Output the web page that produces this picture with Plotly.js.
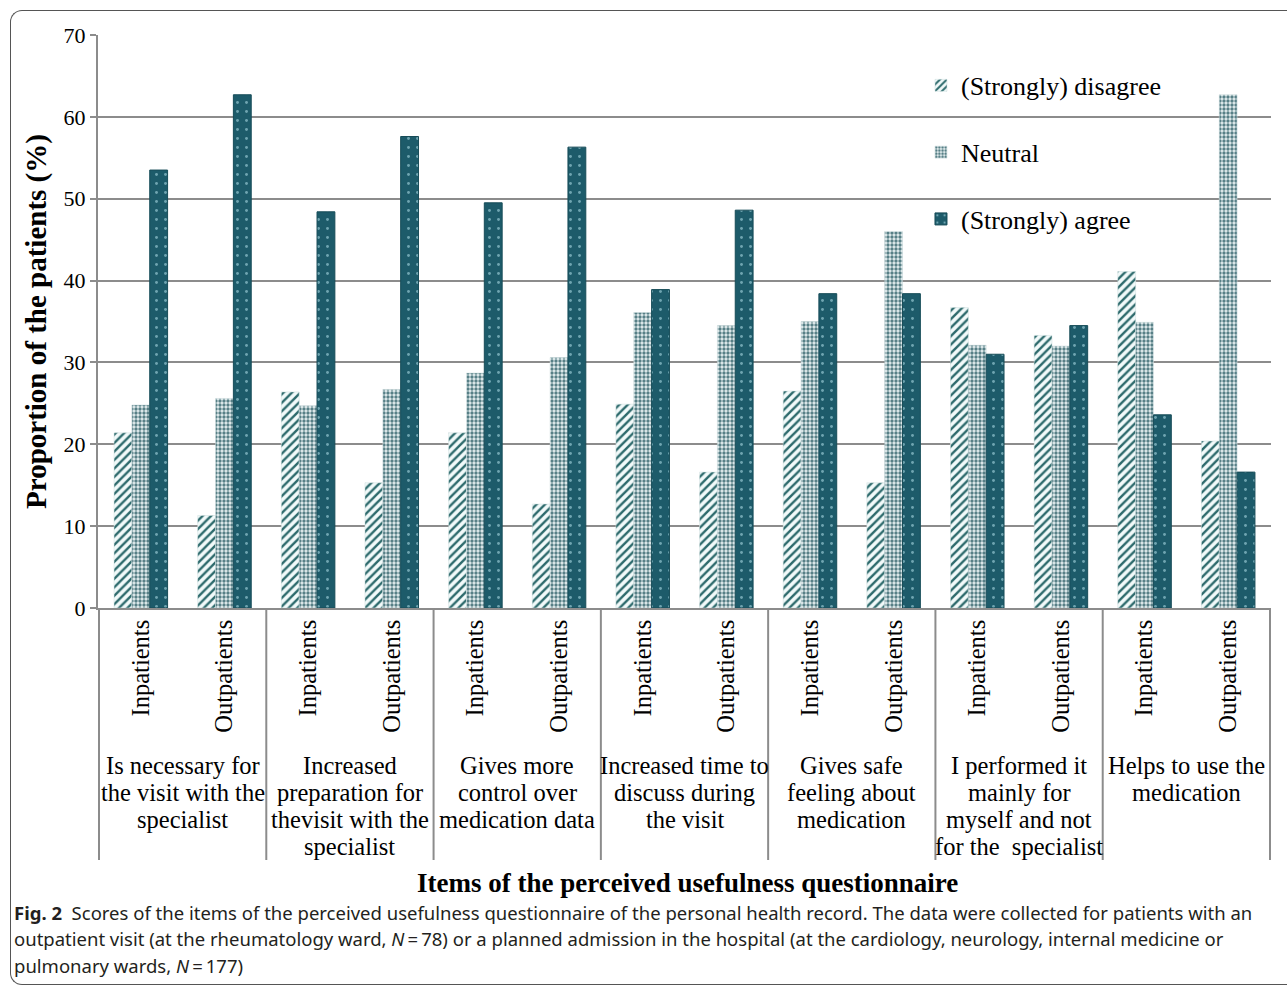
<!DOCTYPE html>
<html>
<head>
<meta charset="utf-8">
<script src="https://cdn.plot.ly/plotly-3.0.1.min.js"></script>
<style>
  html, body { margin: 0; padding: 0; background: #fff; overflow: hidden; }
  #chart { width: 1287px; height: 989px; }
  #frame { position: absolute; left: 10px; top: 10px; width: 1320px; height: 975px;
           border: 1px solid #555; border-right: none; border-radius: 12px 0 0 12px;
           pointer-events: none; box-sizing: border-box; }
</style>
</head>
<body>
<div id="chart"></div>
<div id="frame"></div>
<script>
// Questionnaire items (outer category), lines separated by <br>
const items = [
  "Is necessary for<br>the visit with the<br>specialist",
  "Increased<br>preparation for<br>thevisit with the<br>specialist",
  "Gives more<br>control over<br>medication data",
  "Increased time to<br>discuss during<br>the visit",
  "Gives safe<br>feeling about<br>medication",
  "I performed it<br>mainly for<br>myself and not<br>for the  specialist",
  "Helps to use the<br>medication"
];
// Patient type (inner category)
const patients = ["Inpatients", "Outpatients"];

// Values (%) in order: item1-In, item1-Out, item2-In, ...
const disagree = [21.4, 11.3, 26.4, 15.3, 21.4, 12.7, 24.9, 16.6, 26.5, 15.3, 36.7, 33.3, 41.1, 20.4];
const neutral  = [24.8, 25.6, 24.7, 26.7, 28.7, 30.6, 36.1, 34.5, 35.0, 46.0, 32.1, 32.0, 34.9, 62.7];
const agree    = [53.5, 62.7, 48.4, 57.6, 49.5, 56.3, 38.9, 48.6, 38.4, 38.4, 31.0, 34.5, 23.6, 16.6];

const seriesNames = ["(Strongly) disagree", "Neutral", "(Strongly) agree"];
const yTicks = [0, 10, 20, 30, 40, 50, 60, 70];

// unique category keys, shown with patient-type tick text
const catKeys = [], catText = [];
items.forEach((it, i) => patients.forEach(p => { catKeys.push("item" + i + " " + p); catText.push(p); }));

const serif = "Liberation Serif, Times New Roman, serif";
const capFont = { family: "Noto Sans, sans-serif", size: 18.5, color: "#231f20" };

// plot-area geometry helpers (pixels -> paper)
const PT = 35, PB = 608, PH = PB - PT, PL = 98, PW = 1287 - 16 - 98;
const py = Y => (PB - Y) / PH;
const px = X => (X - PL) / PW;

const traces = [
  { type: "bar", name: seriesNames[0], x: catKeys, y: disagree, legendgroup: "a",
    marker: { color: "#f2fafa", line: { color: "#cfdede", width: 0.5 },
      pattern: { shape: "/", size: 6, solidity: 0.4, fgcolor: "#2d6a6c", bgcolor: "#f2fafa", fillmode: "replace" } } },
  { type: "bar", name: seriesNames[1], x: catKeys, y: neutral, legendgroup: "b",
    marker: { color: "#e3eeef", line: { color: "#c9d9db", width: 0.5 },
      pattern: { shape: ".", size: 4, solidity: 0.55, fgcolor: "#577f86", bgcolor: "#e6f0f1", fillmode: "replace" } } },
  { type: "bar", name: seriesNames[2], x: catKeys, y: agree, legendgroup: "c",
    marker: { color: "#1d5b6a", line: { color: "#174c58", width: 1 },
      pattern: { shape: ".", size: 9, solidity: 0.08, fgcolor: "#6fa5b1", bgcolor: "#1d5b6a", fillmode: "replace" } } }
];

const annotations = [];
// group labels, one annotation per line for tight line spacing
items.forEach((it, i) => {
  it.split("<br>").forEach((line, k) => {
    annotations.push({ xref: "x", yref: "paper", x: 2 * i + 0.5, y: py(765 + 27.3 * k),
      xanchor: "center", yanchor: "middle", showarrow: false,
      font: { family: serif, size: 24.5, color: "#000" }, text: line });
  });
});
// x-axis title
annotations.push({ xref: "paper", yref: "paper", x: px(687), y: py(883), xanchor: "center", yanchor: "middle",
  showarrow: false, font: { family: serif, size: 27, color: "#000", weight: "bold" },
  text: "Items of the perceived usefulness questionnaire" });
// caption
annotations.push(
  { xref: "paper", yref: "paper", x: px(12), y: py(912), xanchor: "left", yanchor: "middle",
    showarrow: false, align: "left", font: capFont,
    text: "<b>Fig. 2</b>  Scores of the items of the perceived usefulness questionnaire of the personal health record. The data were collected for patients with an" },
  { xref: "paper", yref: "paper", x: px(12), y: py(938), xanchor: "left", yanchor: "middle",
    showarrow: false, align: "left", font: capFont,
    text: "outpatient visit (at the rheumatology ward, <i>N</i>\u2009=\u200978) or a planned admission in the hospital (at the cardiology, neurology, internal medicine or" },
  { xref: "paper", yref: "paper", x: px(12), y: py(965), xanchor: "left", yanchor: "middle",
    showarrow: false, align: "left", font: capFont,
    text: "pulmonary wards, <i>N</i>\u2009=\u2009177)" }
);

// group dividers below the axis
const shapes = [];
for (let i = 0; i <= items.length; i++) {
  shapes.push({ type: "line", xref: "x", yref: "paper", x0: 2 * i - 0.5, x1: 2 * i - 0.5,
    y0: 0, y1: py(860), line: { color: "#8c8c8c", width: 2 } });
}

const layout = {
  width: 1287, height: 989,
  margin: { l: PL, r: 16, t: PT, b: 989 - PB },
  paper_bgcolor: "rgba(0,0,0,0)",
  plot_bgcolor: "rgba(0,0,0,0)",
  barmode: "group",
  bargap: 0.36,
  bargroupgap: 0,
  font: { family: serif, color: "#000", size: 24 },
  xaxis: {
    type: "category",
    tickvals: catKeys, ticktext: catText,
    tickangle: -90,
    tickfont: { family: serif, size: 24.5, color: "#000" },
    showline: true, linecolor: "#8c8c8c", linewidth: 2,
    ticks: "", showgrid: false
  },
  yaxis: {
    range: [0, 70], tickvals: yTicks, ticktext: yTicks.map(String),
    tickfont: { family: serif, size: 22, color: "#000" },
    showgrid: true, gridcolor: "#8c8c8c", gridwidth: 2,
    showline: true, linecolor: "#8c8c8c", linewidth: 2,
    ticks: "outside", ticklen: 6, tickcolor: "#8c8c8c", tickwidth: 2,
    zeroline: false,
    title: { text: "Proportion of the patients (%)",
             font: { family: serif, size: 29, color: "#000", weight: "bold" }, standoff: 8 }
  },
  legend: {
    x: 0.7016, y: 0.953, xanchor: "left", yanchor: "top",
    bgcolor: "rgba(0,0,0,0)", borderwidth: 0,
    traceorder: "grouped", tracegroupgap: 30,
    font: { family: serif, size: 26, color: "#000" },
    itemwidth: 30
  },
  annotations: annotations,
  shapes: shapes
};

Plotly.newPlot("chart", traces, layout, { displayModeBar: false, staticPlot: true });
</script>
</body>
</html>
